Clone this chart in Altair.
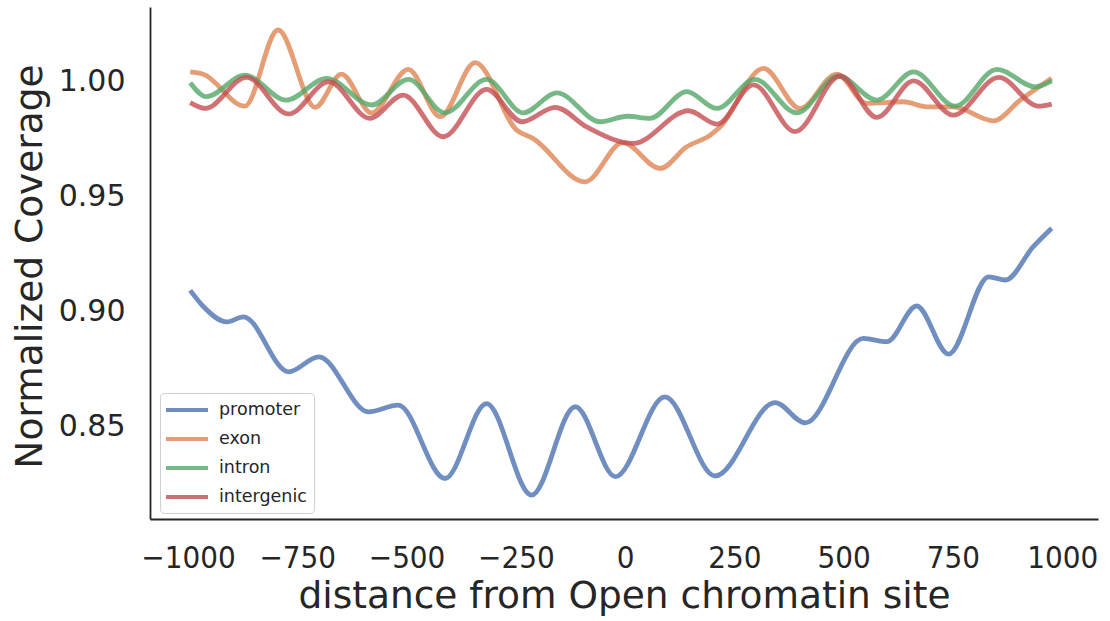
import altair as alt
import pandas as pd

# Genomic region classes and their colours (seaborn "deep" palette)
regions = ["promoter", "exon", "intron", "intergenic"]
region_colors = ["#4C72B0", "#DD8452", "#55A868", "#C44E52"]

# Smoothed normalized coverage profiles around open chromatin sites
promoter_x = [-995, -965, -911, -873, -770, -701, -587, -519, -412, -317, -214, -114, -22,
              91, 206, 343, 412, 545, 599, 667, 740, 832, 870, 934, 976]
promoter_y = [0.909, 0.902, 0.8953, 0.8975, 0.8736, 0.8801, 0.8562, 0.8591, 0.8272, 0.8598,
              0.8200, 0.8584, 0.8280, 0.8627, 0.8283, 0.8602, 0.8514, 0.8881, 0.8867, 0.9022,
              0.8813, 0.9149, 0.9135, 0.9280, 0.9360]

exon_x = [-995, -965, -870, -794, -709, -649, -580, -496, -423, -343, -248, -210, -92, -5,
          80, 141, 195, 217, 317, 400, 484, 553, 637, 690, 751, 843, 904, 976]
exon_y = [1.004, 1.003, 0.9891, 1.0222, 0.9886, 1.003, 0.9862, 1.0051, 0.9845, 1.008,
          0.9787, 0.975, 0.9562, 0.9732, 0.962, 0.9714, 0.9765, 0.980, 1.0055, 0.9881,
          1.003, 0.9903, 0.991, 0.9888, 0.9888, 0.9827, 0.9917, 1.0012]

intron_x = [-995, -958, -870, -775, -683, -580, -496, -412, -317, -233, -156, -57, 5, 57,
            141, 210, 297, 393, 488, 576, 660, 755, 851, 938, 976]
intron_y = [0.9993, 0.9932, 1.0026, 0.9917, 1.0012, 0.9896, 1.0007, 0.9862, 1.0007, 0.9862,
            0.9949, 0.9823, 0.9847, 0.9838, 0.9954, 0.9881, 1.0007, 0.9862, 1.0022, 0.9917,
            1.004, 0.9891, 1.0051, 0.9975, 1.0001]

intergenic_x = [-995, -961, -866, -770, -678, -584, -508, -416, -317, -236, -160, -88, 19,
                145, 210, 294, 389, 492, 576, 660, 751, 855, 946, 976]
intergenic_y = [0.9906, 0.9881, 1.0016, 0.9857, 0.9997, 0.9838, 0.9939, 0.9758, 0.9964,
                0.9823, 0.9886, 0.9801, 0.9729, 0.9871, 0.9813, 0.9983, 0.978, 1.0022,
                0.9842, 1.0001, 0.9852, 1.0016, 0.9891, 0.990]

x_ticks = [-1000, -750, -500, -250, 0, 250, 500, 750, 1000]
y_ticks = [0.85, 0.90, 0.95, 1.00]

frames = []
for name, xs, ys in [
    ("promoter", promoter_x, promoter_y),
    ("exon", exon_x, exon_y),
    ("intron", intron_x, intron_y),
    ("intergenic", intergenic_x, intergenic_y),
]:
    frames.append(pd.DataFrame({"distance": xs, "coverage": ys, "region": name}))
data = pd.concat(frames, ignore_index=True)

FONT = "DejaVu Sans"
NARROW_FONT = "DejaVu Sans Condensed, DejaVu Sans"
INK = "#262626"

chart = (
    alt.Chart(data)
    .mark_line(strokeWidth=4.8, opacity=0.8, interpolate="monotone")
    .encode(
        x=alt.X(
            "distance:Q",
            scale=alt.Scale(domain=[-1087, 1082], nice=False, zero=False),
            axis=alt.Axis(
                values=x_ticks,
                format="d",
                title="distance from Open chromatin site",
                titleY=88,
                titleBaseline="alphabetic",
                labelPadding=24,
                labelFont=NARROW_FONT,
                labelFontSize=31,
            ),
        ),
        y=alt.Y(
            "coverage:Q",
            scale=alt.Scale(domain=[0.8096, 1.0322], nice=False, zero=False),
            axis=alt.Axis(
                values=y_ticks,
                format=".2f",
                title="Normalized Coverage",
                titleX=-120,
                titleY=259,
                titleAngle=-90,
                titleAlign="center",
                titleBaseline="middle",
                labelPadding=25,
            ),
        ),
        color=alt.Color(
            "region:N",
            scale=alt.Scale(domain=regions, range=region_colors),
            sort=regions,
            legend=alt.Legend(
                title=None,
                orient="none",
                legendX=10,
                legendY=386,
                symbolType="M-2.625,0H2.625",
                symbolSize=256,
                symbolStrokeWidth=4,
                symbolOpacity=0.8,
                symbolOffset=10,
                labelOffset=22,
                labelFont=FONT,
                labelFontSize=17.5,
                labelColor=INK,
                padding=7,
                rowPadding=10,
                strokeColor="#d0d0d0",
                fillColor="white",
                cornerRadius=4,
            ),
        ),
    )
    .properties(
        width=948,
        height=512,
        background="white",
        autosize=alt.AutoSizeParams(type="none"),
        padding={"left": 150, "top": 7, "right": 12, "bottom": 102},
    )
    .configure_view(stroke=None)
    .configure_axis(
        grid=False,
        ticks=False,
        domainColor=INK,
        domainWidth=1.8,
        labelFont=FONT,
        labelFontSize=30,
        labelColor=INK,
        titleFont=FONT,
        titleFontSize=37.5,
        titleFontWeight="normal",
        titleColor=INK,
    )
)

chart.save("out.html", embed_options={"renderer": "svg", "actions": False})
